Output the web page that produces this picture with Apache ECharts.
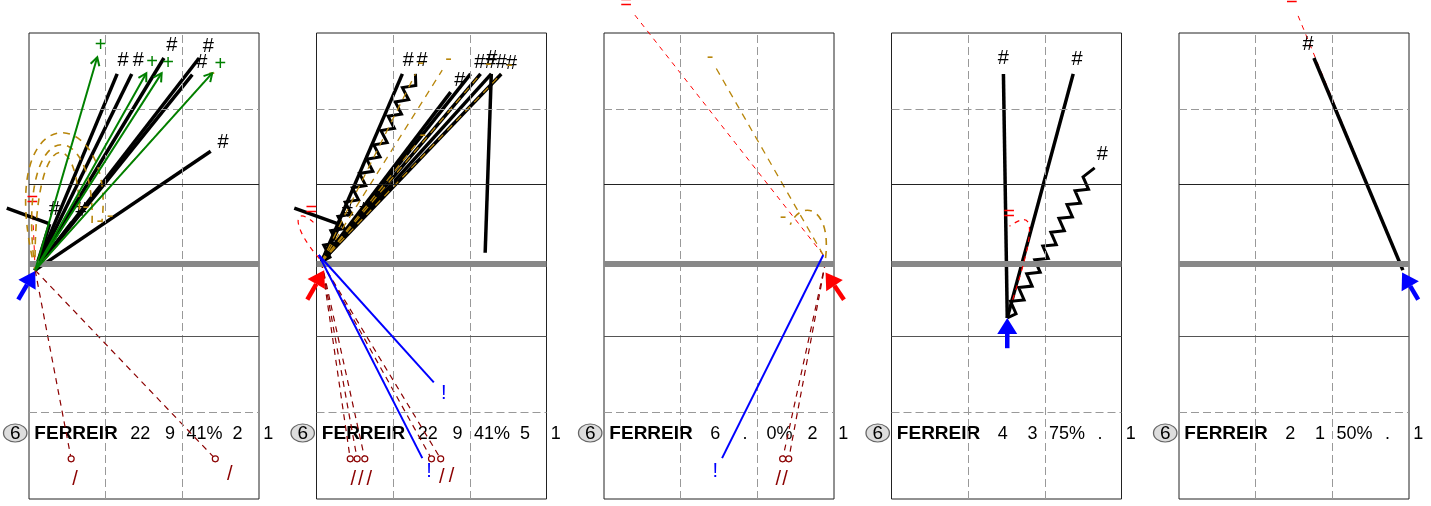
<!DOCTYPE html>
<html>
<head>
<meta charset="utf-8">
<script src="https://cdn.jsdelivr.net/npm/echarts@6/dist/echarts.min.js"></script>
<style>
  html, body { margin: 0; padding: 0; background: #fff; }
  #main { width: 1431px; height: 506px; }
</style>
</head>
<body>
<div id="main"></div>
<script>
// player summary row, one entry per panel
var playerName = 'FERREIR';
var playerNo = '6';
var attempts = ['22', '22', '6', '4', '2'];
var kills = ['9', '9', '.', '3', '1'];
var killPct = ['41%', '41%', '0%', '75%', '50%'];
var errors = ['2', '5', '2', '.', '.'];
var blocks = ['1', '1', '1', '1', '1'];

// court lines (court units)
var dashY = [5.5, 1.5];
var solidY = [4.5, 2.5];
var netY = 3.45;
var dashX = [1.5, 2.5];

// attacks: [x0, y0, x1, y1] or curves [x0, y0, c1x, c1y, c2x, c2y, x1, y1]
var p1Kill = [[0.58, 3.37, 1.65, 5.96], [0.58, 3.37, 1.84, 5.96], [0.58, 3.37, 2.26, 6.17], [0.58, 3.37, 2.72, 6.17],
  [0.58, 3.37, 2.63, 5.95], [0.58, 3.37, 2.87, 4.94], [0.58, 3.37, 0.77, 3.98], [0.58, 3.37, 1.06, 4.0]];
var p1Tail = [[0.77, 3.98, 0.21, 4.19]];
var p1Pos = [[0.58, 3.37, 1.39, 6.18], [0.58, 3.37, 2.03, 5.97], [0.58, 3.37, 2.23, 5.97], [0.58, 3.37, 2.89, 5.97]];
var p1Neg = [[0.58, 3.37, 2.78, 5.85]];
var p1NegCurve = [[0.58, 3.37, 0.0, 5.75, 1.65, 5.6, 1.45, 4.0], [0.58, 3.37, 0.3, 5.5, 1.4, 5.45, 1.32, 3.93],
  [0.58, 3.37, 0.55, 5.3, 1.15, 5.3, 1.16, 4.1]];
var p1Red = [[0.58, 3.37, 0.55, 4.1]];
var p1Err = [[0.58, 3.37, 1.05, 0.88], [0.58, 3.37, 2.93, 0.88]];
var p1Serve = [[0.36, 2.98, 0.58, 3.36]];

var p2Kill = [[0.565, 3.48, 1.62, 5.96], [0.565, 3.48, 2.51, 5.96], [0.565, 3.48, 2.64, 5.96], [0.565, 3.48, 2.78, 5.96],
  [0.565, 3.48, 2.91, 5.96], [0.565, 3.48, 2.25, 5.72], [2.70, 3.60, 2.78, 5.96], [0.565, 3.48, 0.81, 3.97], [0.565, 3.48, 1.0, 4.0]];
var p2Tail = [[0.81, 3.97, 0.21, 4.19]];
var p2Zig = [[0.565, 3.48, 1.79, 5.96]];
var p2Neg = [[0.565, 3.48, 2.14, 6.01], [0.565, 3.48, 1.79, 5.96], [0.565, 3.48, 1.79, 5.02], [0.565, 3.48, 2.64, 5.96], [0.565, 3.48, 2.91, 5.96]];
var p2RedCurve = [[0.54, 3.52, 0.15, 3.97, 0.21, 4.23, 0.46, 4.0]];
var p2Blue = [[0.53, 3.57, 2.03, 1.89], [0.53, 3.57, 1.88, 0.89]];
var p2Err = [[0.565, 3.48, 0.94, 0.88], [0.565, 3.48, 1.03, 0.88], [0.565, 3.48, 1.13, 0.88], [0.565, 3.48, 2.0, 0.88], [0.565, 3.48, 2.12, 0.88]];
var p2Serve = [[0.38, 2.98, 0.60, 3.37]];

var p3Blue = [[3.36, 3.57, 2.04, 0.89]];
var p3Red = [[3.36, 3.57, 0.90, 6.74]];
var p3Neg = [[3.36, 3.57, 1.96, 6.04]];
var p3NegCurve = [[3.39, 3.53, 3.47, 4.23, 3.06, 4.30, 2.93, 3.97]];
var p3Err = [[3.39, 3.48, 2.83, 0.88], [3.39, 3.48, 2.91, 0.88]];
var p3Serve = [[3.63, 2.98, 3.39, 3.34]];

var p4Kill = [[2.01, 2.74, 1.96, 5.96], [2.01, 2.74, 2.87, 5.96]];
var p4Zig = [[2.01, 2.74, 3.15, 4.72]];
var p4RedCurve = [[2.08, 2.98, 2.44, 4.1, 2.31, 4.14, 2.04, 3.95]];
var p4Serve = [[2.01, 2.34, 2.01, 2.74]];

var p5Kill = [[3.42, 3.37, 2.26, 6.17]];
var p5Red = [[3.42, 3.37, 2.04, 6.76]];
var p5Serve = [[3.62, 2.98, 3.41, 3.34]];

var BLUE = '#0000ff', RED = '#ff0000', GREEN = '#008000', GOLD = '#b8860b', DARKRED = '#8b0000';
var FONT = 'Liberation Sans';

function unit(a, b) {
  var dx = b[0] - a[0], dy = b[1] - a[1];
  var l = Math.sqrt(dx * dx + dy * dy) || 1;
  return [dx / l, dy / l, l];
}
function pts(api, n) {
  var out = [];
  for (var i = 0; i < n; i++) out.push(api.coord([api.value(2 * i), api.value(2 * i + 1)]));
  return out;
}
function mark(text, color, p, u, off, size) {
  return {
    type: 'text',
    style: {
      text: text, x: p[0] + u[0] * off, y: p[1] + u[1] * off, fill: color,
      fontSize: size || 20, fontFamily: FONT, align: 'center', verticalAlign: 'middle'
    }
  };
}
function stroke(color, width, dash) {
  return { stroke: color, lineWidth: width, fill: 'none', lineDash: dash || null };
}

// straight line with end symbol
function straight(color, width, dash, sym, off) {
  return function (params, api) {
    var p = pts(api, 2), u = unit(p[0], p[1]);
    var kids = [{ type: 'polyline', shape: { points: p }, style: stroke(color, width, dash) }];
    if (sym) kids.push(mark(sym, color, p[1], u, off));
    return { type: 'group', children: kids };
  };
}
function curve(color, width, dash, sym, off) {
  return function (params, api) {
    var p = pts(api, 4), u = unit(p[0], p[3]);
    return {
      type: 'group', children: [
        { type: 'bezierCurve', shape: { x1: p[0][0], y1: p[0][1], cpx1: p[1][0], cpy1: p[1][1], cpx2: p[2][0], cpy2: p[2][1], x2: p[3][0], y2: p[3][1] }, style: stroke(color, width, dash) },
        mark(sym, color, p[3], u, off)
      ]
    };
  };
}
function zigzag(params, api) {
  var p = pts(api, 2), u = unit(p[0], p[1]), n = [-u[1], u[0]];
  var half = 8, amp = 5.5, k = Math.floor(u[2] / half);
  var line = [p[0]];
  for (var i = 1; i < k; i++) {
    var s = i * half, sg = i % 2 ? 1 : -1;
    line.push([p[0][0] + u[0] * s + n[0] * amp * sg, p[0][1] + u[1] * s + n[1] * amp * sg]);
  }
  line.push(p[1]);
  return {
    type: 'group', children: [
      { type: 'polyline', shape: { points: line }, style: stroke('#000', 3) },
      mark('#', '#000', p[1], u, 15)
    ]
  };
}
function greenArrow(params, api) {
  var p = pts(api, 2), u = unit(p[0], p[1]), e = p[1];
  var h = 8, w = 4.5;
  var back = [e[0] - u[0] * h, e[1] - u[1] * h];
  return {
    type: 'group', children: [
      { type: 'polyline', shape: { points: p }, style: stroke(GREEN, 2) },
      { type: 'polyline', shape: { points: [[back[0] - u[1] * w, back[1] + u[0] * w], e, [back[0] + u[1] * w, back[1] - u[0] * w]] }, style: stroke(GREEN, 2) },
      mark('+', GREEN, e, u, 12)
    ]
  };
}
function errLine(params, api) {
  var p = pts(api, 2), u = unit(p[0], p[1]);
  return {
    type: 'group', children: [
      { type: 'polyline', shape: { points: [p[0], [p[1][0] - u[0] * 3, p[1][1] - u[1] * 3]] }, style: stroke(DARKRED, 1.2, [6, 5]) },
      { type: 'circle', shape: { cx: p[1][0], cy: p[1][1], r: 3 }, style: { fill: '#fff', stroke: DARKRED, lineWidth: 1.2 } },
      mark('/', DARKRED, p[1], u, 21)
    ]
  };
}
function serveArrow(color) {
  return function (params, api) {
    var p = pts(api, 2), u = unit(p[0], p[1]), t = p[1];
    var h = 16, w = 10;
    var base = [t[0] - u[0] * h, t[1] - u[1] * h];
    return {
      type: 'group', children: [
        { type: 'polyline', shape: { points: [p[0], base] }, style: stroke(color, 4.5) },
        { type: 'polygon', shape: { points: [t, [base[0] - u[1] * w, base[1] + u[0] * w], [base[0] + u[1] * w, base[1] - u[0] * w]] }, style: { fill: color } }
      ]
    };
  };
}
function statsRow(i) {
  return function (params, api) {
    var y = api.value(1);
    var badge = api.coord([0.32, y]), name = api.coord([0.57, y]);
    var cols = [1.95, 2.34, 2.79, 3.22, 3.62];
    var vals = [attempts[i], kills[i], killPct[i], errors[i], blocks[i]];
    var kids = [
      { type: 'circle', x: badge[0], y: badge[1], scaleX: 1.3, shape: { cx: 0, cy: 0, r: 9 }, style: { fill: '#ddd', stroke: '#666', lineWidth: 1 } },
      { type: 'text', style: { text: playerNo, x: badge[0], y: badge[1] + 1, fill: '#000', fontSize: 19, fontFamily: FONT, align: 'center', verticalAlign: 'middle' } },
      { type: 'text', style: { text: playerName, x: name[0], y: name[1] + 1, fill: '#000', fontSize: 19, fontWeight: 'bold', fontFamily: FONT, align: 'left', verticalAlign: 'middle' } }
    ];
    vals.forEach(function (v, k) {
      var c = api.coord([cols[k], y]);
      kids.push({ type: 'text', style: { text: v, x: c[0], y: c[1] + 1, fill: '#000', fontSize: 18, fontFamily: FONT, align: 'center', verticalAlign: 'middle' } });
    });
    return { type: 'group', children: kids };
  };
}

var panels = [
  { serve: p1Serve, serveColor: BLUE, kill: p1Kill, tail: p1Tail, pos: p1Pos, neg: p1Neg, negCurve: p1NegCurve, red: p1Red, err: p1Err },
  { serve: p2Serve, serveColor: RED, kill: p2Kill, tail: p2Tail, zig: p2Zig, neg: p2Neg, redCurve: p2RedCurve, blue: p2Blue, err: p2Err },
  { serve: p3Serve, serveColor: RED, blue: p3Blue, red: p3Red, neg: p3Neg, negCurve: p3NegCurve, err: p3Err },
  { serve: p4Serve, serveColor: BLUE, kill: p4Kill, zig: p4Zig, redCurve: p4RedCurve },
  { serve: p5Serve, serveColor: BLUE, kill: p5Kill, red: p5Red }
];

var renderers = {
  red: [straight(RED, 1, [5, 5], '=', 14), 2],
  kill: [straight('#000', 3.5, null, '#', 15), 3],
  tail: [straight('#000', 3.5, null, null, 0), 3],
  zig: [zigzag, 3],
  neg: [straight(GOLD, 1.3, [7, 6], '-', 12), 4],
  negCurve: [curve(GOLD, 1.6, [7, 6], '-', 10), 4],
  pos: [greenArrow, 5],
  redCurve: [curve(RED, 1.2, [5, 5], '=', 12), 5],
  blue: [straight(BLUE, 2, null, '!', 15), 5],
  err: [errLine, 4]
};

var grids = [], xAxes = [], yAxes = [], series = [];
panels.forEach(function (pn, i) {
  grids.push({ left: 29 + i * 287.5, top: 33, width: 230, height: 466, show: true, borderColor: '#222', borderWidth: 1, backgroundColor: 'transparent' });
  xAxes.push({ gridIndex: i, type: 'value', min: 0.5, max: 3.5, show: false });
  yAxes.push({ gridIndex: i, type: 'value', min: 0.35, max: 6.5, show: false });

  var courtLines = [];
  dashX.forEach(function (v) { courtLines.push({ xAxis: v, lineStyle: { color: '#999', width: 1, type: [8, 4] } }); });
  dashY.forEach(function (v) { courtLines.push({ yAxis: v, lineStyle: { color: '#999', width: 1, type: [8, 4] } }); });
  solidY.forEach(function (v, k) { courtLines.push({ yAxis: v, lineStyle: { color: k ? '#555' : '#222', width: 1.2, type: 'solid' } }); });
  courtLines.push({ yAxis: netY, lineStyle: { color: '#888', width: 6, type: 'solid' } });

  series.push({
    type: 'custom', xAxisIndex: i, yAxisIndex: i, silent: true, z: 1,
    data: [[0.5, 1.22]], renderItem: statsRow(i),
    markLine: { silent: true, symbol: ['none', 'none'], label: { show: false }, animation: false, data: courtLines }
  });

  Object.keys(renderers).forEach(function (kind) {
    if (!pn[kind]) return;
    series.push({ type: 'custom', xAxisIndex: i, yAxisIndex: i, silent: true, z: renderers[kind][1], data: pn[kind], renderItem: renderers[kind][0] });
  });
  series.push({ type: 'custom', xAxisIndex: i, yAxisIndex: i, silent: true, z: 6, data: pn.serve, renderItem: serveArrow(pn.serveColor) });
});

var chart = echarts.init(document.getElementById('main'));
chart.setOption({
  animation: false,
  grid: grids,
  xAxis: xAxes,
  yAxis: yAxes,
  series: series
});
</script>
</body>
</html>
